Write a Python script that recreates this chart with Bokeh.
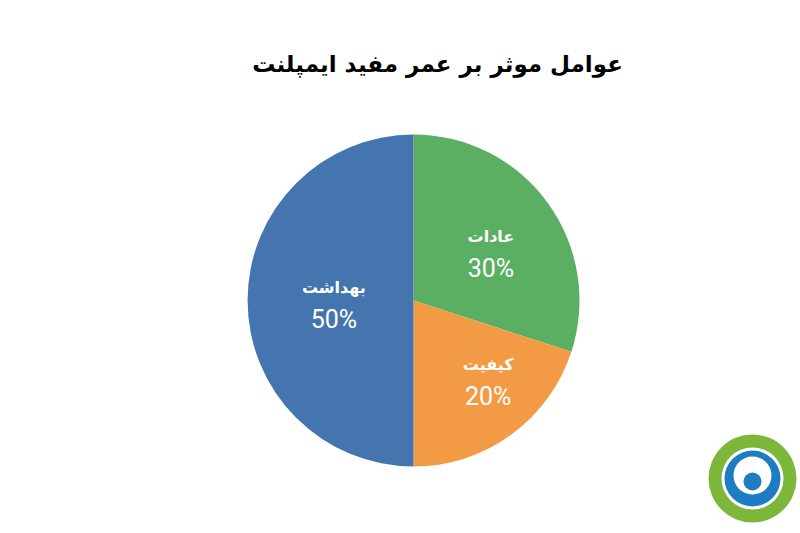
import math
from bokeh.plotting import figure
from bokeh.models import ColumnDataSource, Range1d
from bokeh.core.properties import value
from bokeh.embed import file_html
from bokeh.resources import INLINE

# data
title_text = "عوامل موثر بر عمر مفید ایمپلنت"
categories = ["عادات", "کیفیت", "بهداشت"]
shares = [30, 20, 50]
colors = ["#5BAF62", "#F39A45", "#4475AE"]

W, H = 800, 533
p = figure(width=W, height=H, output_backend="svg", toolbar_location=None,
           x_range=Range1d(0, W), y_range=Range1d(0, H), min_border=0)
p.axis.visible = False
p.grid.visible = False
p.outline_line_color = None
p.background_fill_color = "white"
p.border_fill_color = "white"

cx, cy, R = 413, H - 300, 166
total = sum(shares)
starts, ends, mids = [], [], []
a = math.pi / 2
for s in shares:
    span = 2 * math.pi * s / total
    starts.append(a)
    ends.append(a - span)
    mids.append(a - span / 2)
    a -= span

src = ColumnDataSource(dict(start=starts, end=ends, color=colors))
p.wedge(x=cx, y=cy, radius=R, start_angle="start", end_angle="end",
        direction="clock", fill_color="color", line_color=None, source=src)

# label placement (fraction of radius, angle tweak in degrees), per slice
label_r = [0.55, 0.66, 0.48]
label_da = [-4, 7, 2]
lx, ly_name, ly_pct = [], [], []
for m, f, da in zip(mids, label_r, label_da):
    ang = m + math.radians(da)
    x = cx + R * f * math.cos(ang)
    y = cy + R * f * math.sin(ang)
    lx.append(x)
    ly_name.append(y + 16)
    ly_pct.append(y - 16)

p.text(x=lx, y=ly_name, text=categories, text_color="white",
       text_font=value("DejaVu Sans"), text_font_style="bold",
       text_font_size="16px", text_align="center", text_baseline="middle")
p.text(x=lx, y=ly_pct, text=[f"{s}%" for s in shares], text_color="white",
       text_font=value("Roboto"), text_font_style="normal",
       text_font_size="25px", text_align="center", text_baseline="middle")

p.text(x=[437], y=[H - 63], text=[title_text], text_color="black",
       text_font=value("DejaVu Sans"), text_font_style="bold",
       text_font_size="23px", text_align="center", text_baseline="middle")

# logo approximation
lgx, lgy = 752, H - 478
p.scatter(x=[lgx], y=[lgy], size=88, marker="circle", fill_color="#7DB73A", line_color=None)
p.scatter(x=[lgx], y=[lgy], size=62, marker="circle", fill_color="white", line_color=None)
p.scatter(x=[lgx], y=[lgy], size=56, marker="circle", fill_color="#1E7DC2", line_color=None)
p.scatter(x=[lgx], y=[lgy + 3], size=38, marker="circle", fill_color="white", line_color=None)
p.scatter(x=[lgx], y=[lgy - 3], size=18, marker="circle", fill_color="#1E7DC2", line_color=None)

open("out.html", "w").write(file_html(p, INLINE))
